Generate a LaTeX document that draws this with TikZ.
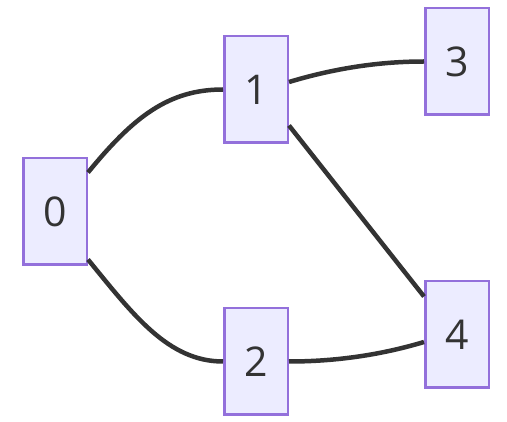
\documentclass[tikz,border=0pt]{standalone}
\usepackage{fontspec}
\setmainfont{Open Sans}
\usetikzlibrary{positioning}
\definecolor{boxfill}{HTML}{ECECFF}
\definecolor{boxline}{HTML}{9370DB}
\definecolor{ink}{HTML}{333333}

\begin{document}
\begin{tikzpicture}[
    x=1pt, y=-1pt,
    box/.style={rectangle, draw=boxline, fill=boxfill, line width=2.5pt,
                minimum width=63.5pt, minimum height=106.5pt, inner sep=0pt,
                text=ink, font=\fontsize{41}{48}\selectfont},
    edge/.style={draw=ink, line width=4.5pt},
]
\useasboundingbox (0,0) rectangle (507,422);

% Nodes
\node[box] (n0) at (55, 211.5)  {0};
\node[box] (n1) at (256, 89.5)  {1};
\node[box] (n2) at (256, 361.5) {2};
\node[box] (n3) at (457, 61.5)  {3};
\node[box] (n4) at (457, 334.5) {4};

% Edges
\draw[edge] ([yshift=39pt]n0.east) .. controls +(45,-55) and +(-55,0) .. (n1.west);
\draw[edge] ([yshift=-48pt]n0.east) .. controls +(45,55) and +(-55,0) .. (n2.west);
\draw[edge] ([yshift=7.5pt]n1.east) .. controls +(40,-12) and +(-50,0) .. (n3.west);
\draw[edge] ([yshift=-36pt]n1.east) -- ([yshift=38pt]n4.west);
\draw[edge] (n2.east) .. controls +(50,0) and +(-40,12) .. ([yshift=-7.5pt]n4.west);
\end{tikzpicture}
\end{document}
